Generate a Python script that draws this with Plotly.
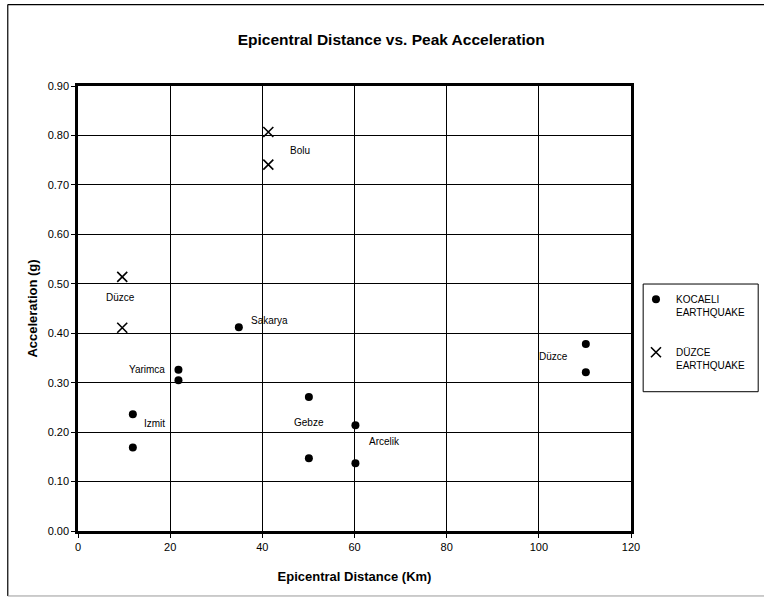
import plotly.graph_objects as go

# Kocaeli earthquake stations
koc_x = [11.9, 11.9, 21.8, 21.8, 34.9, 50.1, 50.1, 60.2, 60.2, 110.2, 110.2]
koc_y = [0.236, 0.169, 0.326, 0.305, 0.412, 0.271, 0.147, 0.214, 0.137, 0.378, 0.321]

# Duzce earthquake stations
duz_x = [9.6, 9.6, 41.3, 41.3]
duz_y = [0.514, 0.411, 0.807, 0.741]

# Station labels
lab_text = ["Bolu", "Düzce", "Sakarya", "Yarimca", "Izmit", "Gebze", "Arcelik", "Düzce"]
lab_x = [48.2, 9.3, 41.5, 14.9, 16.6, 50.1, 66.6, 103.2]
lab_y = [0.769, 0.472, 0.426, 0.327, 0.218, 0.220, 0.182, 0.353]

x_ticks = [0, 20, 40, 60, 80, 100, 120]
y_ticks = [0.0, 0.1, 0.2, 0.3, 0.4, 0.5, 0.6, 0.7, 0.8, 0.9]

FONT = "Liberation Sans, Arial, sans-serif"

fig = go.Figure()
fig.add_trace(go.Scatter(
    x=koc_x, y=koc_y, mode="markers", name="KOCAELI<br>EARTHQUAKE",
    legendgroup="koc",
    marker=dict(symbol="circle", size=8, color="black"),
))
fig.add_trace(go.Scatter(
    x=duz_x, y=duz_y, mode="markers", name="DÜZCE<br>EARTHQUAKE",
    legendgroup="duz",
    marker=dict(symbol="x-thin-open", size=10, color="black",
                line=dict(width=1.6, color="black")),
))

for t, x, y in zip(lab_text, lab_x, lab_y):
    fig.add_annotation(x=x, y=y, text=t, showarrow=False, xref="x", yref="y",
                       font=dict(family=FONT, size=10, color="black"))

# outer chart frame
fig.add_shape(type="line", xref="paper", yref="paper", x0=-0.127, x1=1.25,
              y0=1.183, y1=1.183, line=dict(color="black", width=1.2))
fig.add_shape(type="line", xref="paper", yref="paper", x0=-0.127, x1=-0.127,
              y0=1.183, y1=-0.146, line=dict(color="black", width=1.2))
fig.add_shape(type="line", xref="paper", yref="paper", x0=-0.127, x1=1.25,
              y0=-0.146, y1=-0.146, line=dict(color="#999999", width=1))

# legend box
fig.add_shape(type="rect", xref="paper", yref="paper", x0=1.022, x1=1.23,
              y0=0.313, y1=0.555, line=dict(color="black", width=1),
              fillcolor="rgba(0,0,0,0)")

fig.update_layout(
    width=764, height=597,
    margin=dict(l=78, r=133, t=86, b=66, autoexpand=False),
    paper_bgcolor="white", plot_bgcolor="white",
    font=dict(family=FONT, size=11, color="black"),
    title=dict(text="<b>Epicentral Distance vs. Peak Acceleration</b>",
               x=0.512, xanchor="center", y=0.933, yanchor="middle",
               font=dict(family=FONT, size=15.5, color="black")),
    showlegend=True,
    legend=dict(x=1.009, y=0.55, xanchor="left", yanchor="top",
                bgcolor="rgba(0,0,0,0)", borderwidth=0,
                font=dict(family=FONT, size=10, color="black"),
                valign="top", tracegroupgap=24, itemwidth=30),
)
fig.update_xaxes(
    range=[0, 120], tickvals=x_ticks, ticktext=[str(v) for v in x_ticks],
    showgrid=True, gridcolor="black", gridwidth=0.8,
    showline=True, linecolor="black", linewidth=2.5, mirror=True,
    ticks="outside", ticklen=4, tickcolor="black", zeroline=False,
    title=dict(text="<b>Epicentral Distance (Km)</b>",
               font=dict(family=FONT, size=13), standoff=20),
    tickfont=dict(family=FONT, size=11),
)
fig.update_yaxes(
    range=[0, 0.9], tickvals=y_ticks, ticktext=[f"{v:.2f}" for v in y_ticks],
    showgrid=True, gridcolor="black", gridwidth=0.6,
    showline=True, linecolor="black", linewidth=2.5, mirror=True,
    ticks="outside", ticklen=4, tickcolor="black", zeroline=False,
    title=dict(text="<b>Acceleration (g)</b>",
               font=dict(family=FONT, size=13), standoff=8),
    tickfont=dict(family=FONT, size=11),
)

fig.write_html("out.html")
